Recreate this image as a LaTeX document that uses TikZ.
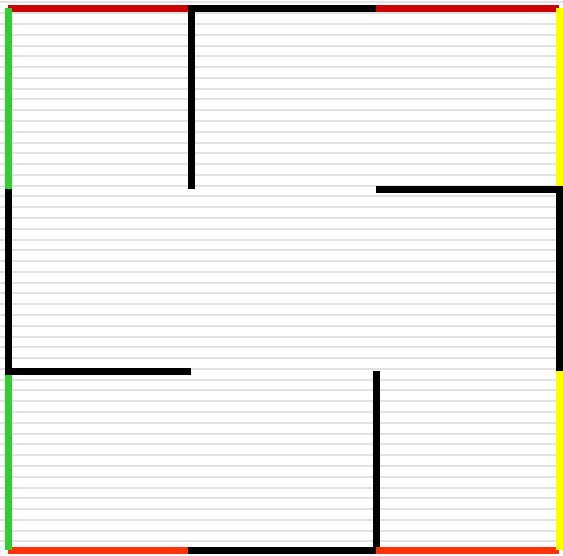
\documentclass[tikz,border=0pt]{standalone}
\definecolor{wallred}{HTML}{CC0000}
\definecolor{wallgreen}{HTML}{33CC33}
\definecolor{wallyellow}{HTML}{FFFF00}
\definecolor{wallorange}{HTML}{FF3300}
\definecolor{stripe}{HTML}{E2E2E2}
\tikzset{wall/.style={line width=7pt, line cap=butt}}
\begin{document}
\begin{tikzpicture}[x=1pt,y=-1pt]
\useasboundingbox (0,0) rectangle (563,555);
\fill[white] (0,0) rectangle (563,555);
\foreach \k in {0,...,50} {
  \draw[stripe, line width=2pt] (0,{2.4+10.78*\k}) -- (563,{2.4+10.78*\k});
}
% corners
\coordinate (A0) at (8,8);   \coordinate (A1) at (191,8);   \coordinate (A2) at (376,8);   \coordinate (A3) at (559,8);
\coordinate (B0) at (8,189); \coordinate (B1) at (191,189); \coordinate (B2) at (376,189); \coordinate (B3) at (559,189);
\coordinate (C0) at (8,371); \coordinate (C1) at (191,371); \coordinate (C2) at (376,371); \coordinate (C3) at (559,371);
\coordinate (D0) at (8,550); \coordinate (D1) at (191,550); \coordinate (D2) at (376,550); \coordinate (D3) at (559,550);
% top
\draw[wall, wallred] (A0) -- (A1);
\draw[wall, black] ([xshift=-3.5pt]A1) -- ([xshift=3.5pt]A2);
\draw[wall, wallred] (A2) -- (A3);
% bottom
\draw[wall, wallorange] (D0) -- (D1);
\draw[wall, black] ([xshift=-3.5pt]D1) -- ([xshift=3.5pt]D2);
\draw[wall, wallorange] (D2) -- (D3);
% left
\draw[wall, wallgreen] (A0) -- (B0);
\draw[wall, black] (B0) -- (C0);
\draw[wall, wallgreen] (C0) -- (D0);
% right
\draw[wall, wallyellow] (A3) -- (B3);
\draw[wall, black] (B3) -- (C3);
\draw[wall, wallyellow] (C3) -- (D3);
% internal walls
\draw[wall, black] (A1) -- (B1);
\draw[wall, black] (B2) -- ([xshift=3.5pt]B3);
\draw[wall, black] ([xshift=-3.5pt]C0) -- (C1);
\draw[wall, black] (C2) -- ([yshift=3.5pt]D2);
\end{tikzpicture}
\end{document}
